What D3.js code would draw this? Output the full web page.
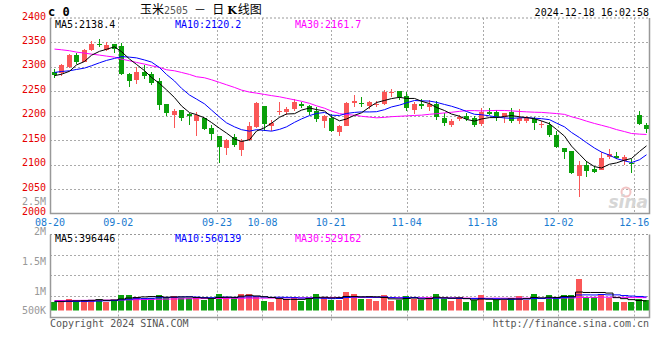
<!DOCTYPE html>
<html>
<head>
<meta charset="utf-8">
<script src="https://d3js.org/d3.v7.min.js"></script>
<style>
  body { margin: 0; background: #fff; }
  svg { display: block; }
  text { font-family: "DejaVu Sans Mono", monospace; font-size: 10px; }
</style>
</head>
<body>
<script>
'use strict';

// trading days shown on the chart (2024)
const dates = [
  "08-20","08-21","08-22","08-23","08-26","08-27","08-28","08-29","08-30",
  "09-02","09-03","09-04","09-05","09-06","09-09","09-10","09-11","09-12","09-13",
  "09-18","09-19","09-20","09-23","09-24","09-25","09-26","09-27","09-30",
  "10-08","10-09","10-10","10-11","10-14","10-15","10-16","10-17","10-18",
  "10-21","10-22","10-23","10-24","10-25","10-28","10-29","10-30","10-31",
  "11-01","11-04","11-05","11-06","11-07","11-08","11-11","11-12","11-13","11-14","11-15",
  "11-18","11-19","11-20","11-21","11-22","11-25","11-26","11-27","11-28","11-29",
  "12-02","12-03","12-04","12-05","12-06","12-09","12-10","12-11","12-12","12-13",
  "12-16","12-17","12-18"
];

const opens = [2290,2287,2299,2324,2310,2334,2347,2334,2347,2343, 2285,2273,2290,2285,2271,2225,2201,2212,2203,2190,
  2195,2174,2158,2135,2156,2130,2150,2177,2220,2180, 2208,2208,2214,2225,2220,2210,2189,2195,2167,2180,
  2227,2227,2220,2223,2224,2246,2250,2240,2212,2224, 2218,2225,2195,2181,2193,2199,2195,2184,2207,2207,
  2198,2207,2190,2189,2193,2182,2181,2160,2133,2128, 2077,2099,2091,2089,2115,2117,2108,2104,2201,2182];
const highs = [2295,2305,2326,2328,2336,2353,2357,2350,2347,2349, 2288,2299,2304,2289,2278,2225,2214,2212,2205,2207,
  2196,2181,2158,2152,2162,2152,2188,2229,2220,2191, 2229,2218,2235,2229,2222,2218,2201,2203,2182,2229,
  2242,2239,2230,2231,2253,2255,2250,2248,2229,2235, 2233,2230,2205,2193,2201,2205,2199,2215,2215,2212,
  2206,2215,2214,2199,2197,2189,2188,2169,2135,2128, 2107,2107,2097,2126,2131,2125,2120,2112,2210,2186];
const lows = [2278,2282,2298,2306,2309,2333,2340,2333,2328,2283, 2259,2265,2276,2263,2212,2200,2175,2189,2182,2159,
  2171,2150,2104,2120,2137,2118,2148,2174,2169,2169, 2201,2201,2210,2216,2201,2188,2175,2166,2159,2179,
  2218,2218,2214,2218,2223,2239,2233,2210,2203,2214, 2210,2191,2180,2177,2190,2190,2177,2180,2201,2190,
  2186,2186,2184,2186,2171,2175,2156,2135,2111,2080, 2034,2075,2082,2089,2111,2111,2099,2083,2182,2165];
const closes = [2283,2304,2324,2310,2334,2347,2344,2345,2336,2285, 2271,2289,2281,2268,2222,2206,2210,2196,2199,2201,
  2173,2162,2137,2150,2140,2148,2180,2226,2184,2186, 2209,2214,2229,2220,2208,2193,2199,2169,2179,2227,
  2230,2225,2228,2225,2249,2249,2238,2216,2225,2220, 2225,2198,2185,2189,2198,2193,2181,2207,2203,2198,
  2205,2190,2195,2195,2186,2183,2160,2137,2126,2083, 2099,2087,2084,2113,2122,2113,2115,2101,2184,2173];

// moving averages of the close, as drawn
const ma5 = [2282,2285,2291,2304,2311.0,2323.8,2331.8,2335.9,2341.1,2331.2, 2316.0,2305.0,2292.3,2278.5,2266.0,2253.0,2237.2,2220.1,2206.4,2202.3,
  2195.6,2186.2,2174.3,2164.6,2152.4,2147.4,2150.9,2168.7,2175.4,2184.7, 2196.8,2203.6,2204.2,2211.5,2215.9,2212.6,2209.8,2197.9,2189.6,2193.4,
  2200.9,2206.0,2217.7,2227.0,2231.3,2235.1,2237.7,2235.4,2235.4,2229.7, 2224.9,2217.0,2210.7,2203.5,2199.0,2192.5,2189.1,2193.4,2196.2,2196.2,
  2198.6,2200.4,2197.9,2196.3,2193.8,2189.4,2183.6,2172.0,2158.3,2137.9, 2121.1,2106.4,2095.9,2093.1,2100.8,2103.5,2109.1,2112.6,2126.9,2138.4];
const ma10 = [2288.6,2290.6,2292,2294.7,2297.5,2302.3,2308.4,2313.2,2317.3,2321.1, 2319.9,2318.4,2314.1,2309.8,2298.6,2284.5,2271.1,2256.2,2242.4,2234.1,
  2224.3,2211.7,2197.2,2185.5,2177.3,2171.5,2168.5,2171.5,2170.0,2168.5, 2172.1,2177.3,2186.5,2193.5,2200.3,2204.7,2206.7,2201.1,2200.6,2204.7,
  2206.8,2207.9,2207.8,2208.3,2212.4,2218.0,2221.8,2226.5,2231.2,2230.5, 2230.0,2227.4,2223.1,2219.5,2214.3,2208.7,2203.0,2202.1,2199.8,2197.6,
  2195.5,2194.7,2195.7,2196.2,2195.0,2194.0,2192.0,2184.9,2177.3,2165.8, 2155.3,2145.0,2133.9,2125.7,2119.3,2112.3,2107.8,2104.2,2110.0,2120.2];
const ma30 = [2336.4,2335,2333,2330.2,2328.2,2326.1,2324.1,2322,2320,2315.9, 2312.5,2309.1,2305.7,2302.3,2298.9,2294.1,2292,2288.6,2284.5,2279.8,
  2277.7,2273.6,2268.2,2263.4,2257.9,2252.5,2248.4,2246.3,2243.6,2241.2, 2238.8,2235.8,2232.6,2229.6,2225.4,2220.3,2215.4,2209.6,2204.3,2202.4,
  2201.1,2198.9,2197.2,2195.8,2196.7,2198.1,2199.0,2199.7,2200.6,2201.2, 2203.0,2204.2,2205.8,2207.1,2209.0,2210.5,2210.5,2209.9,2210.5,2210.9,
  2210.8,2210.0,2208.8,2208.0,2207.2,2206.9,2205.6,2204.5,2202.8,2198.0, 2193.6,2189.0,2184.2,2180.5,2176.2,2171.7,2167.6,2163.7,2162.4,2161.7];

// volume, thousands of lots
const volumeK = [369,369,480,369,439,439,480,369,439,644, 644,562,508,508,644,521,603,508,508,521,
  439,521,685,562,508,685,685,562,398,357, 492,480,562,398,521,685,562,439,439,767,
  685,480,480,398,644,398,439,603,480,439, 521,685,480,398,521,357,439,644,357,439,
  439,521,603,439,685,357,644,562,644,644, 1300,562,562,644,521,357,357,357,480,439];
const volMa5 = [380,378,392,398,405,419,441,419,433,474, 515,532,559,573,573,549,557,557,557,532,
  516,499,535,546,543,592,625,600,568,537, 499,458,458,458,491,529,546,521,529,578,
  578,562,570,562,537,480,472,496,513,472, 496,546,521,505,521,488,439,472,464,447,
  464,480,472,488,537,521,546,537,578,570, 759,742,742,742,718,529,488,447,414,396];
const volMa10 = [365,368,372,372,375,380,390,400,415,440, 467,487,489,503,524,532,544,558,565,553,
  532,528,546,551,538,554,562,568,557,540, 546,541,529,513,514,514,502,489,494,535,
  554,554,546,546,558,529,517,533,537,505, 488,509,509,509,496,492,492,496,484,484,
  476,460,472,476,492,492,513,505,533,554, 640,644,640,660,644,644,615,595,578,560];
const volMa30 = [410,412,414,416,418,420,423,426,430,434, 440,446,452,458,464,470,475,480,484,488,
  490,493,496,499,502,505,508,510,510,511, 515,519,521,522,525,533,536,538,538,542,
  544,541,540,537,537,532,527,530,529,526, 529,535,528,522,523,512,504,506,505,508,
  506,507,509,510,516,505,507,511,518,514, 535,537,540,548,544,543,540,532,532,529];
const volMaLegend = [396446, 560139, 529162];

// axis labels
const priceTicks = [2000, 2050, 2100, 2150, 2200, 2250, 2300, 2350, 2400];
const labelDates = ["08-20", "09-02", "09-23", "10-08", "10-21", "11-04", "11-18", "12-02", "12-16"];
const volTickLabels = ["2.5M", "2M", "1.5M", "1M", "500K"];
const volTickValues = [2500, 2000, 1500, 1000, 500];

(function() {

  let svg = "";
  const RED = "#fa5757", GREEN = "#0aa00a";
  const GRID = "#aaaaaa", FRAME = "#999999";

  window.onload = function() {
    svg = d3.select('body')
      .append('svg')
      .attr('width', 660)
      .attr('height', 360);

    let n = dates.length;
    let scales = {
      xBand: d3.scaleBand().domain(d3.range(n)).range([50, 650]),
      xGrid: d3.scalePoint().domain(d3.range(n)).range([50, 649.5]),
      yPrice: d3.scaleLinear().domain([2000, 2400]).range([213.5, 18]),
      yVol: d3.scaleLinear().domain([0, 3130]).range([310.5, 234.5])
    };
    // crisp candle centre
    scales.cx = i => Math.round(scales.xBand(i) + scales.xBand.bandwidth() / 2) + 0.5;

    drawGrid(scales);
    drawCandles(scales);
    drawMaLines(scales);
    drawVolume(scales);
    drawFrames();
    makeLabels(scales);
  }

  function dashed(x1, y1, x2, y2, color) {
    svg.append('line')
      .attr('x1', x1).attr('y1', y1).attr('x2', x2).attr('y2', y2)
      .attr('stroke', color || GRID)
      .attr('stroke-width', 1)
      .attr('stroke-dasharray', '2,2');
  }

  // dotted grid in both panels
  function drawGrid(s) {
    priceTicks.slice(1, -1).forEach(t => {
      let y = Math.round(s.yPrice(t)) + 0.5;
      dashed(50, y, 649.5, y);
    });
    [255.5, 275.5, 296.5].forEach(y => dashed(50, y, 649.5, y));

    labelDates.slice(1).forEach(d => {
      let x = Math.round(s.xGrid(dates.indexOf(d))) + 0.5;
      dashed(x, 18, x, 213);
      dashed(x, 234.5, x, 321);
    });
  }

  function drawCandles(s) {
    let g = svg.append('g');
    dates.forEach((d, i) => {
      let up = closes[i] > opens[i];
      let color = up ? RED : GREEN;
      let cx = s.cx(i);
      g.append('line')
        .attr('x1', cx).attr('x2', cx)
        .attr('y1', Math.round(s.yPrice(highs[i])))
        .attr('y2', Math.round(s.yPrice(lows[i])))
        .attr('stroke', color)
        .attr('stroke-width', 1);
      let top = Math.round(s.yPrice(Math.max(opens[i], closes[i])));
      let bot = Math.round(s.yPrice(Math.min(opens[i], closes[i])));
      g.append('rect')
        .attr('x', cx - 2.5)
        .attr('y', top)
        .attr('width', 5)
        .attr('height', Math.max(1, bot - top))
        .attr('fill', color);
    });
  }

  function drawMaLines(s) {
    let line = d3.line()
      .x((d, i) => s.cx(i))
      .y(d => s.yPrice(d));
    [[ma30, '#ff00ff'], [ma10, '#0000ff'], [ma5, '#000000']].forEach(m => {
      svg.append('path')
        .attr('d', line(m[0]))
        .attr('fill', 'none')
        .attr('stroke', m[1])
        .attr('stroke-width', 1);
    });
  }

  function drawVolume(s) {
    svg.selectAll('.vol')
      .data(volumeK)
      .enter()
      .append('rect')
      .attr('x', (d, i) => s.cx(i) - 3.5)
      .attr('y', d => Math.round(s.yVol(d)))
      .attr('width', 6)
      .attr('height', d => 310.5 - Math.round(s.yVol(d)))
      .attr('fill', (d, i) => closes[i] > opens[i] ? RED : GREEN);

    // volume averages are drawn as steps
    let step = d3.line()
      .x((d, i) => s.cx(i))
      .y(d => s.yVol(d))
      .curve(d3.curveStep);
    [[volMa30, '#ff00ff'], [volMa10, '#0000ff'], [volMa5, '#000000']].forEach(m => {
      svg.append('path')
        .attr('d', step(m[0]))
        .attr('fill', 'none')
        .attr('stroke', m[1])
        .attr('stroke-width', 1);
    });
  }

  function drawFrames() {
    [[18, 213.5], [234.5, 317.5]].forEach(p => {
      dashed(50, p[0], 649.5, p[0], FRAME);
      svg.append('path')
        .attr('d', `M50.5,${p[0]}V${p[1]}H649.5V${p[0]}`)
        .attr('fill', 'none')
        .attr('stroke', FRAME)
        .attr('stroke-width', 1.5);
    });
  }

  function makeLabels(s) {
    // title
    let title = svg.append('text')
      .attr('x', 140)
      .attr('y', 14)
      .style('font-family', '"Noto Sans CJK SC", sans-serif')
      .style('font-size', '12px');
    title.append('tspan').text('玉米');
    title.append('tspan').style('font-family', '"DejaVu Sans Mono", monospace')
      .style('font-size', '10px').attr('fill', '#555').text('2505');
    title.append('tspan').attr('dx', 6).text('－');
    title.append('tspan').attr('dx', 6).text('日');
    title.append('tspan').attr('dx', 3).style('font-family', '"DejaVu Serif", serif')
      .style('font-weight', 'bold').style('font-size', '11px').text('K');
    title.append('tspan').attr('dx', 1).text('线图');

    svg.append('text')
      .attr('x', 48).attr('y', 16)
      .style('font-size', '12px').style('font-weight', 'bold')
      .text('c 0');

    svg.append('text')
      .attr('x', 649).attr('y', 16)
      .attr('text-anchor', 'end')
      .text('2024-12-18 16:02:58');

    // price axis
    priceTicks.forEach(t => {
      svg.append('text')
        .attr('x', 46)
        .attr('y', s.yPrice(t) + 1.5)
        .attr('text-anchor', 'end')
        .attr('fill', '#e60000')
        .text(t);
    });

    // volume axis (labels sit where sina puts them)
    let labelY = d3.scaleLinear().domain([1000, 2500]).range([294.5, 204.5]);
    volTickLabels.forEach((l, i) => {
      svg.append('text')
        .attr('x', 46)
        .attr('y', Math.min(313.5, labelY(volTickValues[i])))
        .attr('text-anchor', 'end')
        .attr('fill', '#999')
        .text(l);
    });

    // date axis
    labelDates.forEach(d => {
      svg.append('text')
        .attr('x', s.xGrid(dates.indexOf(d)))
        .attr('y', 225.5)
        .attr('text-anchor', 'middle')
        .attr('fill', '#1a7bd0')
        .text(d);
    });

    // legends
    let last = dates.length - 1;
    let priceLegend = [
      ['MA5:' + ma5[last].toFixed(1), '#000', 55],
      ['MA10:' + ma10[last].toFixed(1), '#0000ff', 175],
      ['MA30:' + ma30[last].toFixed(1), '#ff00ff', 295]
    ];
    priceLegend.forEach(l => {
      svg.append('text').attr('x', l[2]).attr('y', 27.5).attr('fill', l[1]).text(l[0]);
    });
    ['MA5:', 'MA10:', 'MA30:'].forEach((k, i) => {
      svg.append('text')
        .attr('x', priceLegend[i][2]).attr('y', 242)
        .attr('fill', priceLegend[i][1])
        .text(k + volMaLegend[i]);
    });

    svg.append('text')
      .attr('x', 50).attr('y', 327)
      .attr('fill', '#555')
      .text('Copyright 2024 SINA.COM');
    svg.append('text')
      .attr('x', 649).attr('y', 327)
      .attr('text-anchor', 'end')
      .attr('fill', '#555')
      .text('http://finance.sina.com.cn');

    // watermark
    svg.append('circle')
      .attr('cx', 626).attr('cy', 192).attr('r', 4.5)
      .attr('fill', 'none').attr('stroke', '#f2c4c4').attr('stroke-width', 2);
    svg.append('text')
      .attr('x', 648).attr('y', 208)
      .attr('text-anchor', 'end')
      .style('font-family', '"DejaVu Sans", sans-serif')
      .style('font-size', '17px').style('font-style', 'italic').style('font-weight', 'bold')
      .attr('fill', '#d6d6d6')
      .text('sina');
  }

})();
</script>
</body>
</html>
